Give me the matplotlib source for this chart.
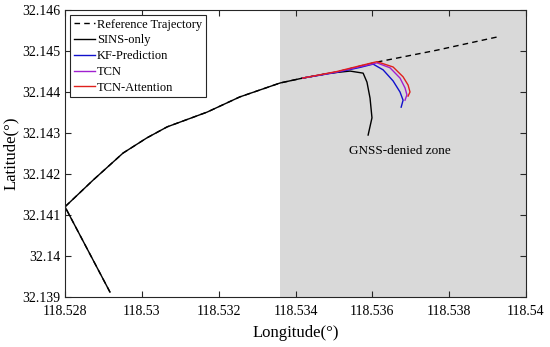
import matplotlib
matplotlib.use("Agg")
import matplotlib.pyplot as plt

plt.rcParams["font.family"] = ["Liberation Serif", "DejaVu Serif"]

# reference trajectory (true path)
ref_lon = [118.52917, 118.52800, 118.52873, 118.52951, 118.53013, 118.53066,
           118.53170, 118.53255, 118.53360, 118.53419, 118.53508, 118.53568,
           118.53612, 118.53768, 118.53924]
ref_lat = [32.13912, 32.14120, 32.14185, 32.14251, 32.14288, 32.14315,
           32.14351, 32.14388, 32.14422, 32.14434, 32.14449, 32.14463,
           32.14473, 32.14502, 32.14534]

# SINS-only
sins_lon = [118.52917, 118.52800, 118.52873, 118.52951, 118.53013, 118.53066,
            118.53170, 118.53255, 118.53360, 118.53419, 118.53490, 118.53542,
            118.53576, 118.53586, 118.53594, 118.53599, 118.53589]
sins_lat = [32.13912, 32.14120, 32.14185, 32.14251, 32.14288, 32.14315,
            32.14351, 32.14388, 32.14422, 32.14434, 32.14446, 32.14451,
            32.14446, 32.14424, 32.14385, 32.14337, 32.14295]

# KF-Prediction
kf_lon = [118.53419, 118.53508, 118.53568, 118.53602, 118.53628, 118.53654,
          118.53672, 118.53680, 118.53675]
kf_lat = [32.14434, 32.14448, 32.14460, 32.14468, 32.14454, 32.14427,
          32.14400, 32.14380, 32.14363]

# TCN
tcn_lon = [118.53419, 118.53508, 118.53568, 118.53612, 118.53646, 118.53672,
           118.53685, 118.53690, 118.53685]
tcn_lat = [32.14434, 32.14449, 32.14462, 32.14471, 32.14459, 32.14434,
           32.14410, 32.14393, 32.14380]

# TCN-Attention
att_lon = [118.53419, 118.53508, 118.53568, 118.53612, 118.53654, 118.53680,
           118.53693, 118.53698, 118.53693]
att_lat = [32.14434, 32.14450, 32.14464, 32.14474, 32.14461, 32.14437,
           32.14417, 32.14400, 32.14390]

xticks = [118.528, 118.53, 118.532, 118.534, 118.536, 118.538, 118.54]
xlabels = ["118.528", "118.53", "118.532", "118.534", "118.536", "118.538", "118.54"]
yticks = [32.139, 32.14, 32.141, 32.142, 32.143, 32.144, 32.145, 32.146]
ylabels = ["32.139", "32.14", "32.141", "32.142", "32.143", "32.144", "32.145", "32.146"]

fig = plt.figure(figsize=(5.5, 3.47), dpi=100)
ax = fig.add_axes([0.1182, 0.1441, 0.8382, 0.8271])

ax.axvspan(118.5336, 118.54, color="#d9d9d9", lw=0, zorder=0)

ax.plot(ref_lon, ref_lat, "k--", lw=1, dashes=(4, 3), label="Reference Trajectory")
ax.plot(sins_lon, sins_lat, color="black", lw=1, label="SINS-only")
ax.plot(kf_lon, kf_lat, color="#1010cc", lw=1, label="KF-Prediction")
ax.plot(tcn_lon, tcn_lat, color="#a020d0", lw=1, label="TCN")
ax.plot(att_lon, att_lat, color="#e0201c", lw=1, label="TCN-Attention")

ax.text(118.53672, 32.14257, "GNSS-denied zone", ha="center", va="center", fontsize=9.5)

ax.set_xlim(118.528, 118.54)
ax.set_ylim(32.139, 32.146)
ax.set_xticks(xticks)
ax.set_xticklabels(xlabels)
ax.set_yticks(yticks)
ax.set_yticklabels(ylabels)
ax.tick_params(direction="in", top=True, right=True, labelsize=10, length=4, color="#262626")
ax.tick_params(axis="x", pad=6)
for sp in ax.spines.values():
    sp.set_color("#262626")
    sp.set_linewidth(0.8)

ax.set_xlabel("Longitude(°)", fontsize=12, labelpad=5)
ax.set_ylabel("Latitude(°)", fontsize=12, labelpad=2)

leg = ax.legend(loc="upper left", fontsize=9, handlelength=1.7, handletextpad=0.15,
                labelspacing=0.3, borderpad=0.3, borderaxespad=0.4,
                fancybox=False, framealpha=1, edgecolor="#262626")
leg.get_frame().set_linewidth(0.8)

plt.savefig("out.png", dpi=100)
